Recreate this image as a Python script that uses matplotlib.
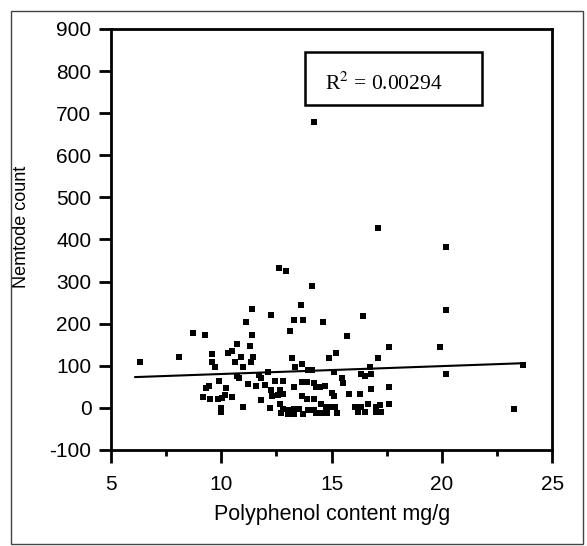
import matplotlib
matplotlib.use("Agg")
import matplotlib.pyplot as plt
from matplotlib.patches import Rectangle
from matplotlib.ticker import MultipleLocator

plt.rcParams["axes.unicode_minus"] = False

# --- data ---
polyphenol = [
    6.3, 8.1, 8.7, 9.25, 11.4, 13.6, 12.25, 11.1, 13.3, 13.7, 11.4, 13.1, 10.7, 11.3,
    9.6, 10.3, 10.5, 10.9, 11.45, 9.6, 9.7, 10.6, 11.35, 13.2, 13.65, 13.35, 11.0,
    10.7, 10.8, 11.7, 11.8, 12.1, 9.9, 9.45, 9.3, 10.2, 11.2, 11.55, 12.0, 12.45,
    12.8, 12.25, 12.65, 12.8, 13.65, 13.9, 13.3, 9.15, 9.5, 9.85, 10.15, 10.05,
    10.5, 11.8, 12.3, 12.55, 13.65, 13.9, 11.0, 10.0, 10.0, 12.2, 12.65, 12.8,
    13.0, 13.3, 13.5, 12.7, 13.0, 13.3, 13.7,
    16.4, 14.6, 15.7, 17.6, 15.2, 14.9, 17.1, 13.95, 14.1, 15.1, 16.75, 16.35, 16.5,
    16.8, 15.45, 15.5, 14.2, 14.3, 14.45, 14.7, 15.0, 15.1, 15.8, 16.3, 16.8, 17.6,
    14.2, 14.5, 14.75, 14.95, 15.15, 13.95, 14.2, 14.3, 14.5, 14.8, 15.25, 16.05,
    16.35, 16.65, 17.0, 17.2, 17.6, 16.2, 16.5, 17.0, 17.25,
    20.2, 19.9, 20.2, 23.65, 23.25, 20.2, 17.1, 14.2, 12.6, 12.95, 14.1,
]
nematodes = [
    110, 120, 178, 173, 235, 245, 220, 205, 208, 208, 173, 182, 152, 146,
    128, 130, 136, 120, 120, 110, 98, 109, 109, 118, 104, 96, 96,
    76, 71, 79, 71, 84, 63, 52, 48, 47, 57, 51, 53, 63,
    63, 42, 42, 33, 61, 62, 50, 25, 21, 21, 31, 23,
    26, 19, 27, 31, 27, 22, 1, 0, -11, 0, 9, -3,
    -5, -3, -3, -13, -15, -14, -14,
    219, 203, 171, 144, 130, 118, 118, 90, 89, 84, 98, 81, 76,
    81, 71, 60, 59, 50, 50, 51, 35, 27, 33, 33, 45, 50,
    21, 9, 1, 1, 3, -5, -5, -12, -13, -13, -13, 3,
    1, 9, 3, 6, 9, -11, -11, -11, -11,
    233, 144, 81, 102, -3, 383, 428, 680, 333, 326, 289,
]

# fitted line as printed on the chart
fit_x = [6.1, 23.7]
fit_y = [73, 106]
r2_label = "R$^2$ = 0.00294"

fig = plt.figure(figsize=(5.87, 5.46), dpi=100)
ax = fig.add_axes([0.189, 0.176, 0.752, 0.771])

ax.scatter(polyphenol, nematodes, marker="s", s=15, color="black", linewidths=0, zorder=3)
ax.plot(fit_x, fit_y, color="black", lw=1.5, zorder=2)

ax.set_xlim(5, 25)
ax.set_ylim(-100, 900)
ax.xaxis.set_major_locator(MultipleLocator(5))
ax.xaxis.set_minor_locator(MultipleLocator(2.5))
ax.yaxis.set_major_locator(MultipleLocator(100))

for s in ax.spines.values():
    s.set_linewidth(2.0)
ax.tick_params(axis="both", which="major", direction="out", length=9, width=2.0,
               labelsize=15, top=False, right=False)
ax.tick_params(axis="x", which="major", pad=9)
ax.tick_params(axis="y", which="major", pad=5)
ax.tick_params(axis="x", which="minor", direction="out", length=4.5, width=2.0, top=False)
for lab in ax.get_xticklabels() + ax.get_yticklabels():
    lab.set_family("Liberation Sans")

ax.set_xlabel("Polyphenol content mg/g", fontsize=15.5, family="Liberation Sans", labelpad=7)
ax.set_ylabel("Nemtode count", fontsize=13, family="Liberation Sans")
ax.yaxis.set_label_coords(-0.184, 0.53)

# R^2 box
ax.add_patch(Rectangle((13.8, 719), 8.0, 126, fill=False, lw=1.8, ec="black", zorder=4))
ax.text(14.7, 771, r2_label, fontsize=15.5, family="Liberation Serif", va="center",
        ha="left", math_fontfamily="stix")

# scanned page border
fig.patches.append(Rectangle((0.019, 0.004), 0.974, 0.976, transform=fig.transFigure,
                             fill=False, lw=1.0, ec="#444444"))

fig.savefig("out.png", dpi=100)
